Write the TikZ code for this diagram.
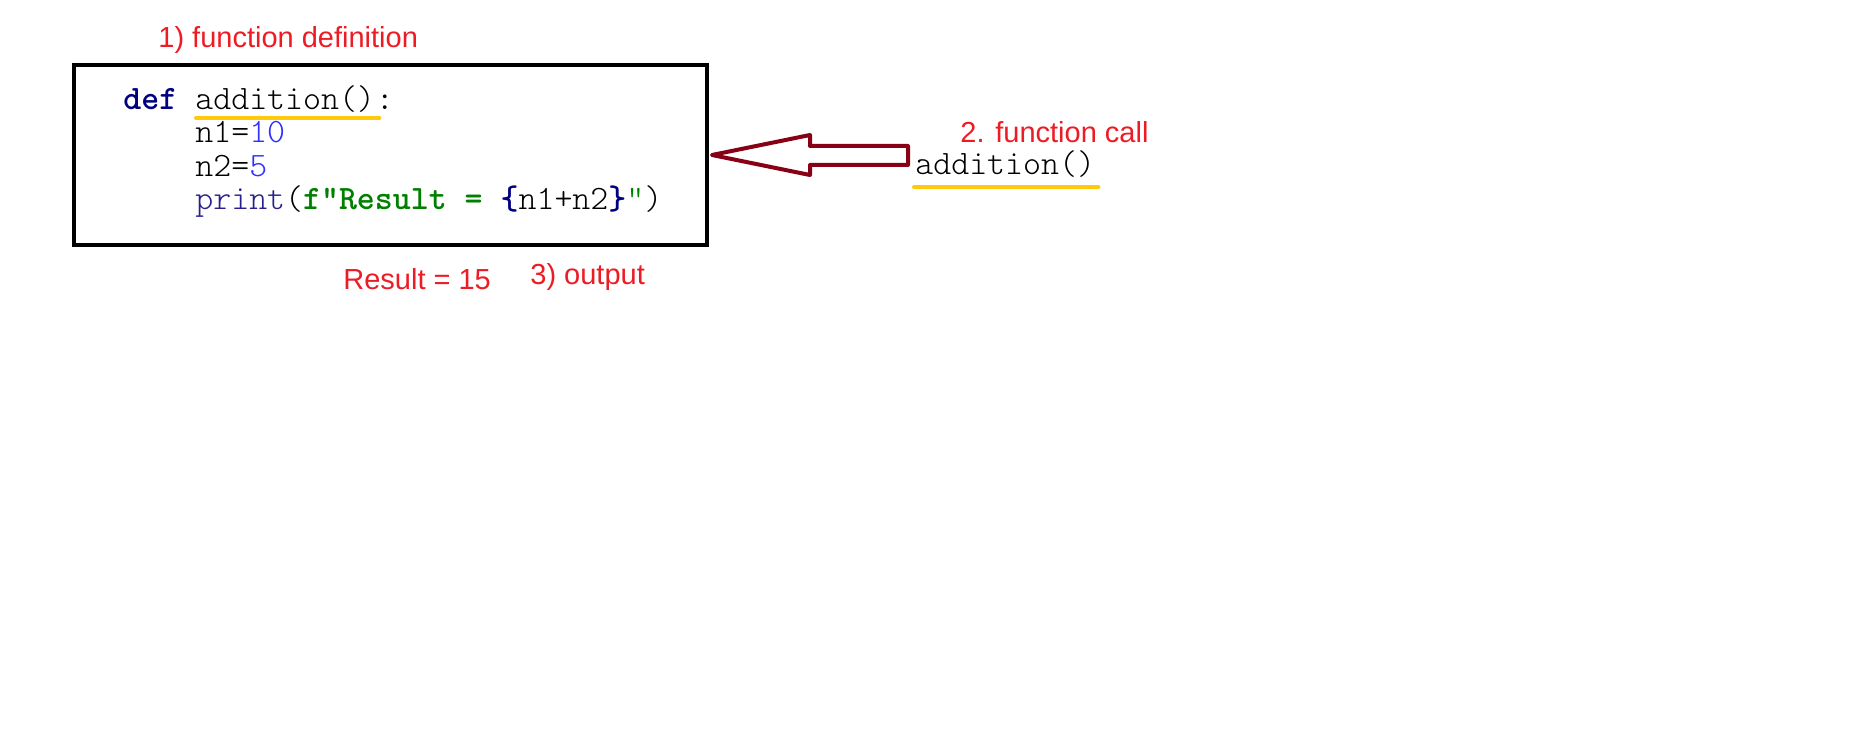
\documentclass[tikz,border=0pt]{standalone}
\usepackage{fontspec}
\setmainfont{Liberation Sans}
\setmonofont{Latin Modern Mono Light}

\definecolor{notered}{RGB}{237,28,36}
\definecolor{arrowred}{RGB}{136,0,21}
\definecolor{markgold}{RGB}{255,201,14}
\definecolor{kwnavy}{RGB}{0,0,128}
\definecolor{builtin}{RGB}{40,30,140}
\definecolor{numblue}{RGB}{48,48,255}
\definecolor{strgreen}{RGB}{0,128,0}

\tikzset{
  codetext/.style={anchor=base west, inner sep=0pt, font=\fontsize{17.1pt}{20pt}\selectfont\ttfamily},
  notetext/.style={anchor=base west, inner sep=0pt, text=notered, font=\fontsize{14.5pt}{17pt}\selectfont},
  goldline/.style={draw=markgold, line width=2pt, line cap=round}
}

\begin{document}
\begin{tikzpicture}[x=0.5pt, y=-0.5pt]
  \useasboundingbox (0, 0) rectangle (1852, 743);

  \begin{scope}
    \node[draw, line width=2pt, minimum width=316.5pt, minimum height=90pt] (codebox) at (390.5, 155) {};

    \node[codetext] (kwdef) at (123, 110) {\textbf{\color{kwnavy}def}};
    \node[codetext] (defname) at (195, 110) {addition()};
    \node[codetext] (defcolon) at (defname.base east) {:};
    \node[codetext] (lineone) at (195, 143) {n1=\textcolor{numblue}{10}};
    \node[codetext] (linetwo) at (195, 177) {n2=\textcolor{numblue}{5}};
    \node[codetext] (linethree) at (195, 210) {\textcolor{builtin}{print}(\textcolor{strgreen}{\textbf{f"Result = }}\textcolor{kwnavy}{\textbf{\{}}n1+n2\textcolor{kwnavy}{\textbf{\}}}\textcolor{strgreen}{"})};

    \draw[goldline] ([shift={(0.5pt,-4pt)}]defname.base west) -- ([shift={(2pt,-4pt)}]defname.base east);

    \node[notetext] (deflabel) at (158, 48) {1) function definition};
    \node[notetext] (result) at (343, 290) {Result = 15};
    \node[notetext] (outlabel) at (530, 285) {3) output};
  \end{scope}

  \begin{scope}
    \node[codetext] (callname) at (915, 175) {addition()};
    \node[notetext] (calllabel) at (960, 143) {2. function call};

    \draw[goldline] ([shift={(-0.5pt,-6pt)}]callname.base west) -- ([shift={(1.5pt,-6pt)}]callname.base east);

    % hollow arrow from the call back to the definition
    \coordinate (tip) at ([xshift=1.5pt]codebox.east);
    \draw[arrowred, line width=2pt, line join=round]
    (tip) -- ++(98, -20) -- ++(0, 11) -- ++(98, 0) -- ++(0, 19) -- ++(-98, 0) -- ++(0, 10) -- cycle;
  \end{scope}
\end{tikzpicture}
\end{document}
